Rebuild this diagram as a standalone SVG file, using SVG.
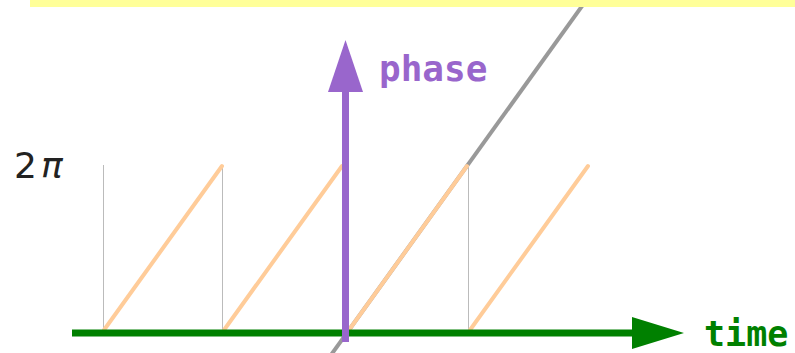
<svg xmlns="http://www.w3.org/2000/svg" width="795" height="353" viewBox="0 0 795 353">
  <style>
    .grid { stroke: #bbbbbb; stroke-width: 1; }
    .saw { stroke: #ffcc99; stroke-width: 4; stroke-linecap: round; }
    .phaseline { stroke: #999999; stroke-width: 4; }
    .lbl { font-family: "DejaVu Sans Mono", "Liberation Mono", monospace; font-weight: bold; font-size: 36px; }
  </style>
  <g id="connectors">
    <line class="phaseline" x1="323.8" y1="365" x2="590" y2="-5"/>
    <line class="grid" x1="103.5" y1="165" x2="103.5" y2="331"/>
    <line class="grid" x1="222.5" y1="165" x2="222.5" y2="331"/>
    <line class="grid" x1="468.5" y1="165" x2="468.5" y2="331"/>
    <line class="saw" x1="104" y1="330" x2="222" y2="166"/>
    <line class="saw" x1="224" y1="330" x2="342" y2="166"/>
    <line class="saw" x1="349" y1="330" x2="467" y2="166"/>
    <line class="saw" x1="470" y1="330" x2="588" y2="166"/>
  </g>
  <g id="banner">
    <rect x="30" y="0" width="765" height="7" fill="#ffff99"/>
  </g>
  <g id="time-axis">
    <line x1="72" y1="333" x2="640" y2="333" stroke="#008000" stroke-width="7"/>
    <polygon points="632,317 684,333 632,349" fill="#008000"/>
    <text class="lbl" x="704" y="346" font-size="35" style="font-size:35px" fill="#008000">time</text>
  </g>
  <g id="phase-axis">
    <line x1="345.5" y1="342" x2="345.5" y2="88" stroke="#9966cc" stroke-width="7"/>
    <polygon points="328,92 345.5,40 363,92" fill="#9966cc"/>
    <text class="lbl" x="379" y="81" fill="#9966cc">phase</text>
  </g>
  <g id="two-pi">
    <text x="14" y="178" font-family="DejaVu Sans, sans-serif" font-size="36" fill="#222222">2<tspan dx="4" font-style="italic">π</tspan></text>
  </g>
</svg>
